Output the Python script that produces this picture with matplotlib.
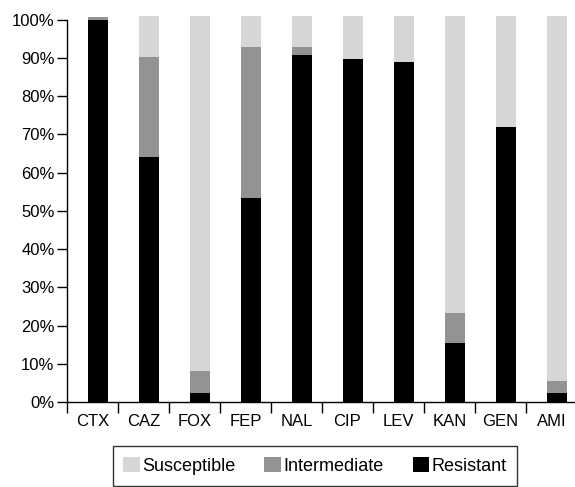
import numpy as np
import matplotlib.pyplot as plt

plt.rcParams['font.family'] = ['Liberation Sans', 'DejaVu Sans']

# antibiotics and percentages
drugs = ['CTX', 'CAZ', 'FOX', 'FEP', 'NAL', 'CIP', 'LEV', 'KAN', 'GEN', 'AMI']
resistant = [100.0, 64.2, 2.4, 53.4, 90.8, 89.8, 89.0, 15.4, 72.0, 2.4]
intermediate = [0.8, 26.1, 5.7, 39.5, 2.1, 0.0, 0.0, 7.9, 0.0, 3.1]
susceptible = [0.0, 10.7, 92.9, 8.1, 8.1, 11.2, 12.0, 77.7, 29.0, 95.5]

c_s = '#d6d6d6'
c_i = '#939393'
c_r = '#000000'

fig = plt.figure(figsize=(5.75, 4.87), dpi=100)
ax = fig.add_axes([67 / 575, (487 - 402) / 487, 510 / 575, (402 - 16) / 487])

x = np.arange(len(drugs))
r = np.array(resistant)
i_ = np.array(intermediate)
s = np.array(susceptible)
bx = x + 0.5 + 0.11
w = 0.4
ax.bar(bx, r, w, color=c_r, label='Resistant')
ax.bar(bx, i_, w, bottom=r, color=c_i, label='Intermediate')
ax.bar(bx, s, w, bottom=r + i_, color=c_s, label='Susceptible')

ax.set_xlim(0, len(drugs))
ax.set_ylim(0, 101)
ax.set_yticks(np.arange(0, 101, 10))
ax.set_yticklabels([f'{v}%' for v in range(0, 101, 10)], fontsize=12)
ax.set_xticks(x + 0.5)
ax.set_xticklabels(drugs, fontsize=12)
ax.set_xticks(np.arange(0, len(drugs) + 1), minor=True)
ax.tick_params(axis='x', which='major', length=0, pad=9)
ax.tick_params(axis='x', which='minor', length=8, width=1, direction='out')
ax.tick_params(axis='y', length=7, width=1, direction='out', pad=2)

for sp in ['top', 'right']:
    ax.spines[sp].set_visible(False)
ax.spines['left'].set_bounds(0, 100)
ax.spines['left'].set_linewidth(1)
ax.spines['bottom'].set_linewidth(1)

h, l = ax.get_legend_handles_labels()
leg = fig.legend(h[::-1], l[::-1], ncol=3, loc='center',
                 bbox_to_anchor=(315 / 575, (487 - 466) / 487),
                 fontsize=13, frameon=True, fancybox=False, edgecolor='black',
                 handlelength=0.9, handleheight=0.9, handletextpad=0.15,
                 columnspacing=1.6, borderpad=0.6, borderaxespad=0)
leg.get_frame().set_linewidth(1)

fig.savefig('out.png', dpi=100)
